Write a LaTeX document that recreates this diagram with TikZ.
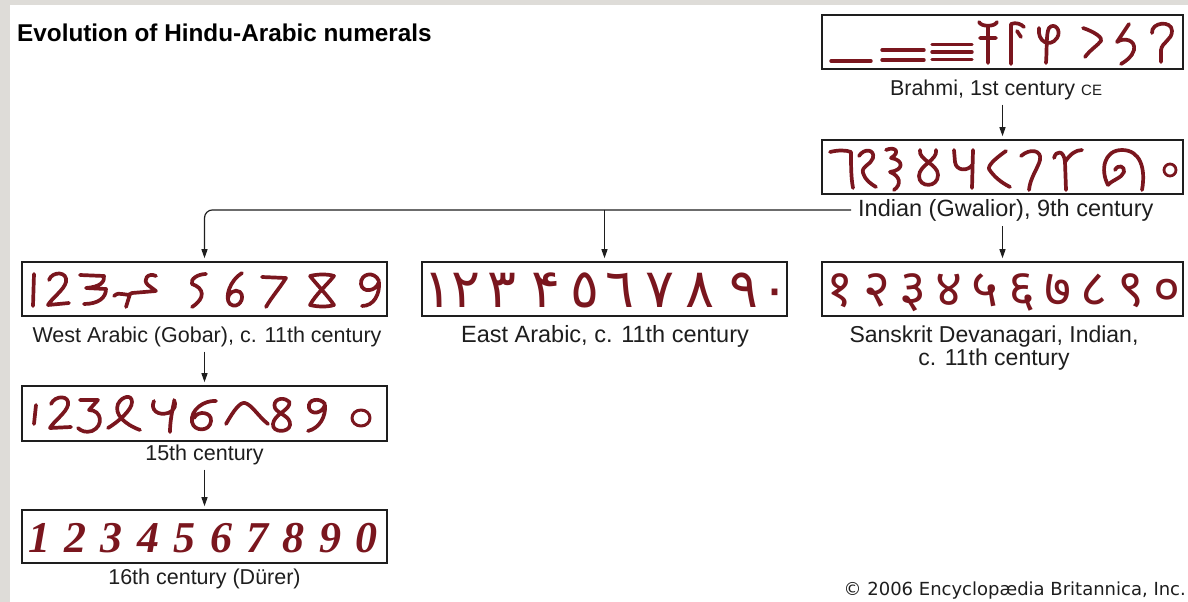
\documentclass[tikz,border=0pt]{standalone}
\usepackage{fontspec}
\setmainfont{Liberation Sans}
\newfontfamily\devfont[Script=Devanagari]{Noto Sans}
\newfontfamily\arabicfont[Script=Arabic]{DejaVu Sans}
\newfontfamily\dejafont{DejaVu Sans}
\newfontfamily\durerfont{Liberation Serif}
\usetikzlibrary{arrows.meta}
\definecolor{numred}{RGB}{122,22,30}
\definecolor{framegray}{RGB}{222,220,216}
\definecolor{ink}{RGB}{30,30,30}
\begin{document}
\begin{tikzpicture}[x=1pt,y=-1pt,
  numbox/.style={draw=ink, line width=1.6pt, minimum width=365pt, minimum height=54pt, inner sep=0pt},
  lab/.style={font=\fontsize{21.5}{22}\selectfont, text=ink, inner sep=0pt},
  gly/.style={draw=numred, line width=3.7pt, line cap=round, line join=round},
  bar/.style={draw=numred, line width=3.4pt, line cap=round},
  arr/.style={draw=ink, line width=1.2pt, -{Triangle[length=9pt,width=6pt]}, shorten >=3pt},
  eastd/.style={inner sep=0pt, anchor=base, text=numred, font=\arabicfont\fontsize{54}{54}\selectfont},
  devd/.style={inner sep=0pt, anchor=base, text=numred, font=\devfont\fontsize{52}{52}\selectfont},
  durd/.style={inner sep=0pt, anchor=base, text=numred, font=\durerfont\bfseries\itshape\fontsize{44}{44}\selectfont},
]
\fill[framegray] (0,0) rectangle (1188,602);
\fill[white] (10,5) rectangle (1188,602);
\useasboundingbox (0,0) rectangle (1188,602);

% title
\node[anchor=base west, inner sep=0pt, font=\fontsize{24.3}{28}\selectfont\bfseries, text=black] (title) at (17,42) {Evolution of Hindu-Arabic numerals};

% boxes
\node[numbox, minimum width=361pt] (brahmi) at (1002.5,42) {};
\node[numbox, minimum width=361pt] (gwalior) at (1002.5,167) {};
\node[numbox] (west) at (204.5,289) {};
\node[numbox] (east) at (604.5,289) {};
\node[numbox, minimum width=361pt] (dev) at (1002.5,289) {};
\node[numbox, minimum height=55pt] (c15) at (204.5,413.5) {};
\node[numbox, minimum height=53pt] (c16) at (204.5,536.5) {};

% labels
\node[lab, anchor=base] (brlab) at (996,95) {Brahmi, 1st century {\fontsize{15}{15}\selectfont CE}};
\node[lab, anchor=base west, font=\fontsize{23.5}{24}\selectfont] (gwlab) at (858,216) {Indian (Gwalior), 9th century};
\node[lab, anchor=base] (welab) at (207,342) {West Arabic (Gobar), c. 11th century};
\node[lab, anchor=base, font=\fontsize{23.5}{24}\selectfont] (ealab) at (605,342) {East Arabic, c. 11th century};
\node[lab, anchor=north, align=center, font=\fontsize{23}{23}\selectfont] (dvlab) at (994,326) {Sanskrit Devanagari, Indian,\\c. 11th century};
\node[lab, anchor=base] (l15) at (204.5,460) {15th century};
\node[lab, anchor=base] (l16) at (204.5,584) {16th century (Dürer)};
\node[anchor=base east, inner sep=0pt, font=\dejafont\fontsize{18}{20}\selectfont, text=ink] (copy) at (1186,595) {© 2006 Encyclopædia Britannica, Inc.};

% connectors
\coordinate (bstart) at ([xshift=-7pt]gwlab.west);
\draw[arr] ([yshift=-5pt]brlab.south -| gwalior.north) -- (gwalior.north);
\draw[arr] ([yshift=-5pt]gwlab.south -| dev.north) -- (dev.north);
\draw[arr, rounded corners=8pt] (bstart) -- (bstart -| west.north) -- (west.north);
\draw[arr] (bstart -| east.north) -- (east.north);
\draw[arr] ([yshift=-5pt]welab.south -| c15.north) -- (c15.north);
\draw[arr] ([yshift=-5pt]l15.south -| c16.north) -- (c16.north);

% Brahmi glyphs
\draw[bar] (831,61) -- (871,61);
\draw[bar] (882,50) -- (924,50) (882,60) -- (924,60);
\draw[bar] (932,44.5) -- (972,44.5) (932,52) -- (972,52) (932,59.5) -- (972,59.5);
\draw[gly] (979,22) .. controls (981,27) and (995,27) .. (997,22) (988,26) -- (988,63) (980,38) -- (996,38);
\draw[gly] (1011,64) -- (1011,24) .. controls (1016,22) and (1021,24) .. (1024,27) (1017,31) -- (1021,37);
\draw[gly] (1039,28) .. controls (1037,42) and (1050,48) .. (1057,38) .. controls (1062,30) and (1054,22) .. (1049,28) .. controls (1046,33) and (1047,50) .. (1046,63);
\draw[gly] (1083,28) .. controls (1095,32) and (1103,38) .. (1101,41) .. controls (1098,45) and (1090,50) .. (1085,57);
\draw[gly] (1129,24) -- (1117,42) .. controls (1124,37) and (1136,40) .. (1134,50) .. controls (1132,57) and (1126,61) .. (1121,64);
\draw[gly] (1152,33) .. controls (1151,22) and (1172,20) .. (1172,31) .. controls (1172,40) and (1162,42) .. (1161,50) -- (1161,62);

% Gwalior glyphs
\draw[gly] (830,152) .. controls (838,150) and (846,150) .. (851,152) .. controls (851,165) and (851,178) .. (853,188);
\draw[gly] (859,156) .. controls (864,148) and (875,149) .. (873,158) .. controls (871,165) and (861,166) .. (863,173) .. controls (865,180) and (871,184) .. (876,187);
\draw[gly] (886,150) .. controls (895,146) and (901,152) .. (891,158) .. controls (904,160) and (904,170) .. (890,172) .. controls (900,176) and (902,184) .. (894,190);
\draw[gly] (920,150) .. controls (918,160) and (938,164) .. (938,175) .. controls (938,188) and (919,188) .. (919,176) .. controls (919,165) and (938,160) .. (936,150);
\draw[gly] (954,150) -- (955,162) .. controls (956,171) and (968,172) .. (973,164) (973,150) -- (972,188);
\draw[gly] (1006,151) .. controls (996,158) and (988,165) .. (989,169) .. controls (994,177) and (1002,183) .. (1010,187);
\draw[gly] (1021,156) .. controls (1030,148) and (1042,150) .. (1040,160) .. controls (1038,168) and (1030,178) .. (1029,190);
\draw[gly] (1054,158) .. controls (1056,150) and (1064,150) .. (1065,162) -- (1066,190) (1065,162) .. controls (1070,154) and (1076,150) .. (1082,150);
\draw[gly] (1108,185) .. controls (1100,170) and (1104,150) .. (1122,150) .. controls (1140,150) and (1146,168) .. (1142,190) (1108,185) .. controls (1112,180) and (1122,178) .. (1124,172) .. controls (1125,166) and (1118,164) .. (1115,170);
\draw[gly, line width=2.8pt] (1170,170) circle[radius=6];

% West Arabic (Gobar) glyphs
\draw[gly] (34,274) -- (33,306);
\draw[gly] (49,280) .. controls (52,271) and (68,271) .. (66,282) .. controls (64,290) and (52,298) .. (48,305) -- (69,303);
\draw[gly] (80,275) -- (104,276) .. controls (105,282) and (100,287) .. (86,288) -- (106,289) .. controls (106,298) and (98,304) .. (84,304);
\draw[gly] (114,296) .. controls (120,290) and (126,298) .. (132,293) -- (156,291) (156,276) .. controls (148,272) and (142,280) .. (148,285) -- (156,291) (130,294) -- (126,307);
\draw[gly] (206,274) .. controls (198,274) and (190,279) .. (192,284) .. controls (204,288) and (206,298) .. (192,307);
\draw[gly] (242,273) .. controls (230,280) and (224,298) .. (230,304) .. controls (238,310) and (246,298) .. (240,292) .. controls (235,288) and (228,294) .. (228,298);
\draw[gly] (262,277) -- (286,278) .. controls (279,289) and (271,298) .. (266,307);
\draw[gly] (310,276) .. controls (318,274) and (328,274) .. (334,276) .. controls (326,286) and (316,294) .. (310,305) .. controls (318,307) and (328,307) .. (334,305) .. controls (328,296) and (318,286) .. (310,276);
\draw[gly] (379,281) .. controls (374,270) and (360,274) .. (361,284) .. controls (362,293) and (376,292) .. (379,282) .. controls (380,294) and (374,306) .. (362,306);

% East Arabic digits
\foreach \x/\d [count=\i] in {438/١, 466/٢, 502/٣, 546/۴, 585/٥, 620/٦, 660/٧, 700/٨, 744/٩, 775/٠}
  \node[eastd] (ea\i) at (\x,307) {\d};

% Devanagari digits
\foreach \d [count=\i] in {१,२,३,४,५,६,७,८,९,०}
  \node[devd] (dv\i) at ({804+36.3*\i},306) {\d};

% 15th century glyphs
\draw[gly] (36,405) -- (34,424);
\draw[gly] (51,404) .. controls (55,395) and (70,395) .. (68,405) .. controls (66,413) and (54,421) .. (50,428) -- (71,427);
\draw[gly] (80,400) -- (98,400) -- (89,410) .. controls (102,410) and (104,426) .. (92,431) .. controls (86,433) and (81,431) .. (78,428);
\draw[gly] (108,428) .. controls (118,422) and (132,410) .. (132,402) .. controls (132,394) and (122,396) .. (118,404) .. controls (114,414) and (124,424) .. (140,430);
\draw[gly] (154,401) .. controls (150,410) and (158,416) .. (168,413) .. controls (176,410) and (176,404) .. (174,400) (174,402) .. controls (172,412) and (170,422) .. (170,432);
\draw[gly] (216,401) .. controls (204,400) and (190,410) .. (192,422) .. controls (194,432) and (210,432) .. (211,421) .. controls (212,412) and (198,410) .. (194,418);
\draw[gly] (226,424) .. controls (234,410) and (240,402) .. (245,403) .. controls (252,405) and (258,416) .. (268,424);
\draw[gly] (288,401) .. controls (282,396) and (272,400) .. (275,408) .. controls (278,414) and (291,416) .. (290,425) .. controls (289,433) and (272,433) .. (273,424) .. controls (274,415) and (287,411) .. (289,405) .. controls (290,402) and (289,401) .. (288,401);
\draw[gly] (325,404) .. controls (320,397) and (307,399) .. (309,408) .. controls (311,415) and (322,414) .. (325,405) .. controls (326,416) and (320,428) .. (308,431);
\draw[gly, line width=3pt] (361,418) ellipse[x radius=9, y radius=8];

% 16th century (Durer) digits
\foreach \d [count=\i] in {1,2,3,4,5,6,7,8,9,0}
  \node[durd] (du\i) at ({2.6+36.4*\i},552) {\d};
\end{tikzpicture}
\end{document}
